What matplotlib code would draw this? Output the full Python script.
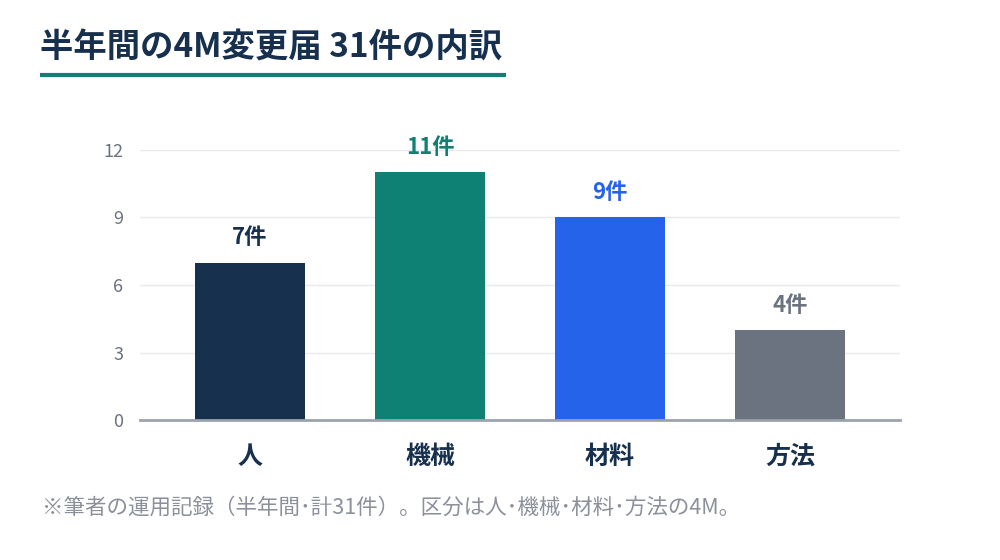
import matplotlib
matplotlib.use("Agg")
import matplotlib.pyplot as plt

plt.rcParams["font.family"] = ["Noto Sans CJK JP", "DejaVu Sans"]

# data
categories = ["人", "機械", "材料", "方法"]
counts = [7, 11, 9, 4]
colors = ["#17304d", "#0f8074", "#2563eb", "#6b7280"]
yticks = [0, 3, 6, 9, 12]
title = "半年間の4M変更届 31件の内訳"
note = "※筆者の運用記録（半年間･計31件）。区分は人･機械･材料･方法の4M。"

fig = plt.figure(figsize=(10, 5.6), dpi=100)
ax = fig.add_axes([0.14, 1 - 420 / 560, 0.76, 270 / 560])

x = range(len(categories))
ax.bar(x, counts, width=0.611, color=colors, zorder=3)
for i, (v, c) in enumerate(zip(counts, colors)):
    ax.text(i, v + 1.1, f"{v}件", ha="center", va="center",
            fontsize=16, fontweight="bold", color=c)

ax.set_xlim(-0.611, 3.611)
ax.set_ylim(0, 12)
ax.set_yticks(yticks)
ax.set_yticklabels([str(t) for t in yticks], fontsize=13, color="#6b7280")
ax.set_xticks(list(x))
ax.set_xticklabels(categories, fontsize=18, fontweight="bold", color="#17304d")
ax.tick_params(axis="x", length=0, pad=18)
ax.tick_params(axis="y", length=0, pad=12)
ax.grid(axis="y", color="#e9eaee", linewidth=1, zorder=0)
for s in ["top", "right", "left"]:
    ax.spines[s].set_visible(False)
ax.spines["bottom"].set_color("#9ca3af")
ax.spines["bottom"].set_linewidth(2)
ax.spines["bottom"].set_zorder(4)

fig.text(0.04, 1 - 48 / 560, title, fontsize=24, fontweight="bold",
         color="#17304d", va="center", ha="left")
fig.add_artist(plt.Line2D([0.04, 0.506], [1 - 75 / 560] * 2, color="#0f8074",
                          linewidth=3, solid_capstyle="butt"))
fig.text(0.042, 1 - 508 / 560, note, fontsize=15.5, color="#8b909a",
         va="center", ha="left")

fig.savefig("out.png", dpi=100, facecolor="white")
